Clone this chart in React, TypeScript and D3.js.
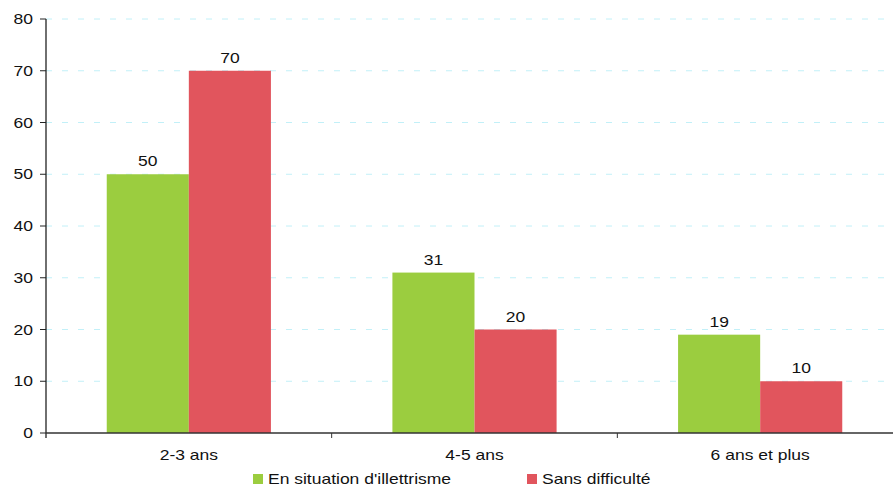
import React from "react";
import * as d3 from "d3";

const categories = ["2-3 ans", "4-5 ans", "6 ans et plus"];
const seriesNames = ["En situation d'illettrisme", "Sans difficulté"];
const illettrisme = [50, 31, 19];
const sansDifficulte = [70, 20, 10];
const yTicks = [0, 10, 20, 30, 40, 50, 60, 70, 80];
const colors = ["#9BCD3F", "#E1555D"];

const SX = 1.25;

function T({ x, y, anchor = "start", children }: { x: number; y: number; anchor?: string; children: React.ReactNode }) {
  return (
    <g transform={`translate(${x},${y}) scale(${SX},1)`}>
      <text x={0} y={0} textAnchor={anchor} fontSize={14} fill="#111">{children}</text>
    </g>
  );
}

export default function App() {
  const W = 893, H = 486;
  const left = 46, right = 903, top = 19, bottom = 433;
  const x = d3.scaleBand().domain(categories).range([left, right]).paddingInner(0).paddingOuter(0);
  const y = d3.scaleLinear().domain([0, 80]).range([bottom, top]);
  const inner = d3.scaleBand().domain(["0", "1"]).range([0, x.bandwidth()]).paddingOuter(0.74).paddingInner(0);
  const series = [illettrisme, sansDifficulte];
  const font = "Liberation Sans, Arial, sans-serif";
  return (
    <svg width={W} height={H} style={{ position: "absolute", left: 0, top: 0 }} fontFamily={font}>
      <rect width={W} height={H} fill="#fff" />
      {yTicks.filter((t) => t > 0).map((t) => (
        <line key={"g" + t} x1={left} x2={W} y1={y(t)} y2={y(t)} stroke="#C2F0F8" strokeWidth={1} strokeDasharray="6,10" />
      ))}
      {categories.map((c, i) =>
        series.map((s, j) => (
          <g key={c + j}>
            <rect x={(x(c) as number) + (inner(String(j)) as number)} y={y(s[i])} width={inner.bandwidth()} height={bottom - y(s[i])} fill={colors[j]} />
            <T x={(x(c) as number) + (inner(String(j)) as number) + inner.bandwidth() / 2} y={y(s[i]) - 8} anchor="middle">{s[i]}</T>
          </g>
        ))
      )}
      <line x1={left} x2={left} y1={top} y2={bottom + 5} stroke="#222" strokeWidth={1.3} />
      <line x1={left} x2={W} y1={bottom} y2={bottom} stroke="#333" strokeWidth={1.3} />
      {yTicks.map((t) => (
        <g key={"t" + t}>
          <line x1={left - 6} x2={left} y1={y(t)} y2={y(t)} stroke="#222" />
          <T x={33} y={y(t) + 5} anchor="end">{t}</T>
        </g>
      ))}
      {categories.slice(1).map((c) => (
        <line key={"xt" + c} x1={x(c) as number} x2={x(c) as number} y1={bottom} y2={bottom + 5} stroke="#333" />
      ))}
      {categories.map((c) => (
        <T key={"xl" + c} x={(x(c) as number) + x.bandwidth() / 2} y={460} anchor="middle">{c}</T>
      ))}
      {seriesNames.map((n, j) => (
        <g key={n} transform={`translate(${[253, 527][j]},474)`}>
          <rect x={0} y={0} width={10} height={10} fill={colors[j]} />
          <T x={15} y={10}>{n}</T>
        </g>
      ))}
    </svg>
  );
}
